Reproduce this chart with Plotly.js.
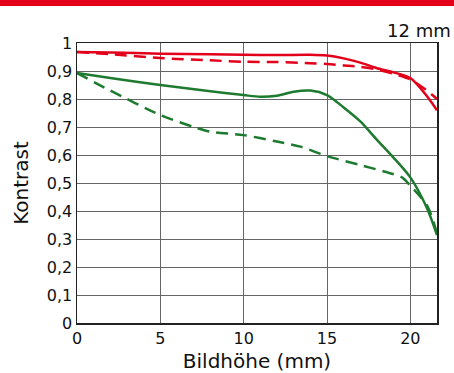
<!DOCTYPE html>
<html><head><meta charset="utf-8">
<script src="https://cdn.plot.ly/plotly-3.0.1.min.js"></script>
<style>html,body{margin:0;padding:0;background:#fff;}#bar{position:absolute;left:0;top:0;width:454px;height:6px;background:#e2001a;z-index:5}#c{width:454px;height:373px}</style>
</head><body><div id="bar"></div><div id="c"></div>
<script>
const redSolidX = [0, 2, 5, 8, 10, 12, 14, 15, 16, 17, 18, 19, 20, 21, 21.6];
const redSolidY = [0.968, 0.966, 0.962, 0.96, 0.958, 0.957, 0.958, 0.955, 0.945, 0.93, 0.91, 0.895, 0.875, 0.81, 0.76];
const redDashX = [0, 2, 5, 8, 10, 12, 14, 15, 16, 17, 18, 19, 20, 21, 21.6];
const redDashY = [0.968, 0.96, 0.946, 0.938, 0.933, 0.932, 0.928, 0.925, 0.92, 0.915, 0.905, 0.89, 0.87, 0.83, 0.8];
const greenSolidX = [0, 2, 5, 8, 10, 11, 12, 13, 14, 15, 16, 17, 18, 19, 20, 21, 21.6];
const greenSolidY = [0.893, 0.875, 0.85, 0.828, 0.814, 0.808, 0.812, 0.826, 0.83, 0.814, 0.77, 0.72, 0.654, 0.59, 0.52, 0.41, 0.314];
const greenDashX = [0, 2, 5, 7, 8, 10, 12, 13.4, 15, 17, 18.5, 19.5, 20, 21, 21.6];
const greenDashY = [0.893, 0.83, 0.743, 0.70, 0.683, 0.671, 0.648, 0.63, 0.596, 0.564, 0.54, 0.52, 0.49, 0.42, 0.32];
const yTicks = [0, 0.1, 0.2, 0.3, 0.4, 0.5, 0.6, 0.7, 0.8, 0.9, 1];
const yTickText = ['0', '0,1', '0,2', '0,3', '0,4', '0,5', '0,6', '0,7', '0,8', '0,9', '1'];
const xTicks = [0, 5, 10, 15, 20];

const RED = '#e2001a', GREEN = '#1d7a2f';
const FONT = '"DejaVu Sans", Verdana, sans-serif';
function tr(x, y, c, dash) {
  return {x: x, y: y, mode: 'lines', type: 'scatter', line: {color: c, width: 2.5, shape: 'spline', smoothing: 0.8, dash: dash}, hoverinfo: 'skip', showlegend: false};
}
const data = [
  tr(greenDashX, greenDashY, GREEN, '12px,7px'),
  tr(greenSolidX, greenSolidY, GREEN, 'solid'),
  tr(redDashX, redDashY, RED, '12px,7px'),
  tr(redSolidX, redSolidY, RED, 'solid')
];
const layout = {
  width: 454, height: 373,
  margin: {l: 77, r: 17, t: 43, b: 50},
  paper_bgcolor: '#fff', plot_bgcolor: '#fff',
  font: {family: FONT, color: '#111', size: 16},
  xaxis: {range: [0, 21.6], tickvals: xTicks, ticktext: xTicks.map(String), showgrid: true, gridcolor: '#666', gridwidth: 1,
    showline: true, linecolor: '#222', linewidth: 1.5, mirror: true, zeroline: false, ticks: '', ticklen: 0,
    tickfont: {size: 16, family: FONT}, title: {text: 'Bildhöhe (mm)', font: {size: 20, family: FONT}, standoff: 7}},
  yaxis: {range: [0, 1], tickvals: yTicks, ticktext: yTickText, showgrid: true, gridcolor: '#666', gridwidth: 1,
    showline: true, linecolor: '#222', linewidth: 1.5, mirror: true, zeroline: false, ticks: '', ticklen: 0,
    tickfont: {size: 16, family: FONT}, title: {text: 'Kontrast', font: {size: 20, family: FONT}, standoff: 13}},
  annotations: [{text: '12 mm', xref: 'paper', yref: 'paper', x: 1.045, y: 1.0, xanchor: 'right', yanchor: 'bottom', showarrow: false, font: {size: 18, family: FONT, color: '#111'}}]
};
Plotly.newPlot('c', data, layout, {staticPlot: true, displayModeBar: false});
</script></body></html>
